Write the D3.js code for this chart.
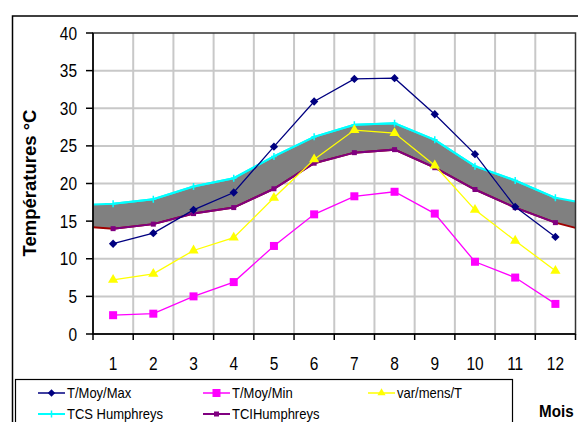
<!DOCTYPE html>
<html>
<head>
<meta charset="utf-8">
<script src="https://cdn.jsdelivr.net/npm/d3@7/dist/d3.min.js"></script>
<style>
  html, body { margin: 0; padding: 0; background: #fff; }
  svg { display: block; }
  text { font-family: "Liberation Sans", Arial, sans-serif; fill: #000; }
</style>
</head>
<body>
<svg id="chart" width="578" height="422"></svg>
<script>
// Monthly temperatures (°C)
const months = [1, 2, 3, 4, 5, 6, 7, 8, 9, 10, 11, 12];
const tMoyMax = [12.0, 13.4, 16.5, 18.8, 24.9, 30.9, 33.9, 34.0, 29.2, 23.9, 16.9, 12.9];
const tMoyMin = [2.5, 2.7, 5.0, 6.9, 11.7, 15.9, 18.3, 18.9, 16.0, 9.6, 7.5, 4.0];
const varMens = [7.2, 8.0, 11.1, 12.8, 18.1, 23.2, 27.1, 26.7, 22.4, 16.5, 12.4, 8.4];
const tcsHumphreys = [17.3, 17.9, 19.6, 20.7, 23.6, 26.2, 27.8, 28.0, 25.8, 22.3, 20.4, 18.1];
const tciHumphreys = [14.0, 14.6, 16.0, 16.8, 19.3, 22.7, 24.1, 24.5, 22.1, 19.2, 16.8, 14.8];
// comfort band values at the left and right plot edges
const tcsEdges = [17.2, 17.6];
const tciEdges = [14.2, 14.1];
const yTicks = [0, 5, 10, 15, 20, 25, 30, 35, 40];

const svg = d3.select("#chart");
const plot = { left: 93, right: 575.5, top: 33, bottom: 334 };

const x = d3.scaleBand().domain(months).range([plot.left, plot.right]).padding(0);
const cx = m => x(m) + x.bandwidth() / 2;
const y = d3.scaleLinear().domain([0, 40]).range([plot.bottom, plot.top]);

// condensed text helper
function label(g, tx, ty, str, opts) {
  const t = g.append("text")
    .attr("transform", `translate(${tx},${ty}) scale(${opts.sx || 1},1)`)
    .attr("font-size", opts.size)
    .attr("text-anchor", opts.anchor || "start")
    .text(str);
  if (opts.bold) t.attr("font-weight", "bold");
  return t;
}

// outer frame
svg.append("path")
  .attr("d", `M12.5,422 V16 H578`)
  .attr("fill", "none").attr("stroke", "#000").attr("stroke-width", 1.5);

// gridlines
const grid = svg.append("g").attr("stroke", "#c8c8c8").attr("stroke-width", 2);
yTicks.filter(v => v > 0 && v < 40).forEach(v => {
  grid.append("line").attr("x1", plot.left).attr("x2", plot.right)
    .attr("y1", y(v)).attr("y2", y(v));
});
months.slice(1).forEach(m => {
  grid.append("line").attr("x1", x(m)).attr("x2", x(m))
    .attr("y1", plot.top).attr("y2", plot.bottom);
});

// comfort band (Humphreys), spanning the full plot width
const band = [{ px: plot.left, lo: tciEdges[0], hi: tcsEdges[0] }]
  .concat(months.map((m, i) => ({ px: cx(m), lo: tciHumphreys[i], hi: tcsHumphreys[i] })))
  .concat([{ px: plot.right, lo: tciEdges[1], hi: tcsEdges[1] }]);

svg.append("path").datum(band)
  .attr("d", d3.area().x(d => d.px).y0(d => y(d.lo)).y1(d => y(d.hi)))
  .attr("fill", "#808080");
svg.append("path").datum(band)
  .attr("d", d3.line().x(d => d.px).y(d => y(d.lo)))
  .attr("fill", "none").attr("stroke", "#a00000").attr("stroke-width", 2);
svg.append("path").datum(band)
  .attr("d", d3.line().x(d => d.px).y(d => y(d.hi)))
  .attr("fill", "none").attr("stroke", "#00ffff").attr("stroke-width", 2);

// plot border
svg.append("rect")
  .attr("x", plot.left).attr("y", plot.top)
  .attr("width", plot.right - plot.left).attr("height", plot.bottom - plot.top)
  .attr("fill", "none").attr("stroke", "#333").attr("stroke-width", 1.5);

// axes
const axes = svg.append("g").attr("stroke", "#000").attr("stroke-width", 1.5);
axes.append("line").attr("x1", plot.left).attr("x2", plot.left)
  .attr("y1", plot.top).attr("y2", plot.bottom);
axes.append("line").attr("x1", plot.left).attr("x2", plot.right)
  .attr("y1", plot.bottom).attr("y2", plot.bottom);
yTicks.forEach(v => {
  axes.append("line").attr("x1", plot.left - 7).attr("x2", plot.left)
    .attr("y1", y(v)).attr("y2", y(v));
});
months.concat([null]).forEach((m, i) => {
  const px = m === null ? plot.right : x(m);
  axes.append("line").attr("x1", px).attr("x2", px)
    .attr("y1", plot.bottom).attr("y2", plot.bottom + 6);
});

const texts = svg.append("g");
yTicks.forEach(v => label(texts, 77, y(v) + 6.5, String(v), { size: 18, sx: 0.86, anchor: "end" }));
months.forEach(m => label(texts, cx(m), 370, String(m), { size: 18, sx: 0.86, anchor: "middle" }));

// axis titles
texts.append("text")
  .attr("transform", "translate(36,183) rotate(-90)")
  .attr("text-anchor", "middle").attr("font-size", 18.5).attr("font-weight", "bold")
  .text("Températures °C");
label(texts, 539, 417, "Mois", { size: 16, bold: true, sx: 0.95 });

// marker shapes
const markers = {
  diamond: (g, s) => g.append("path").attr("d", d3.symbol(d3.symbolDiamond2, s * s * 0.55)()),
  square: (g, s) => g.append("rect").attr("x", -s / 2).attr("y", -s / 2).attr("width", s).attr("height", s),
  triangle: (g, s) => g.append("path").attr("d", d3.symbol(d3.symbolTriangle, s * s * 0.45)()),
  plus: (g, s) => g.append("path").attr("d", `M0,${-s / 2}V${s / 2}M${-s / 2.5},0H${s / 2.5}`)
};

const series = [
  { name: "TCS Humphreys", values: tcsHumphreys, color: "#00ffff", marker: "plus", size: 7, width: 2 },
  { name: "TCIHumphreys", values: tciHumphreys, color: "#800080", marker: "square", size: 5, width: 2 },
  { name: "T/Moy/Max", values: tMoyMax, color: "#000080", marker: "diamond", size: 9, width: 1.3 },
  { name: "T/Moy/Min", values: tMoyMin, color: "#ff00ff", marker: "square", size: 8, width: 1.3 },
  { name: "var/mens/T", values: varMens, color: "#ffff00", marker: "triangle", size: 10, width: 1.3 }
];

const line = d3.line().x(d => cx(d.m)).y(d => y(d.v));
series.forEach(s => {
  const pts = months.map((m, i) => ({ m, v: s.values[i] }));
  const g = svg.append("g");
  g.append("path").datum(pts).attr("d", line)
    .attr("fill", "none").attr("stroke", s.color).attr("stroke-width", s.width);
  pts.forEach(p => {
    const mg = g.append("g").attr("transform", `translate(${cx(p.m)},${y(p.v)})`);
    const mk = markers[s.marker](mg, s.size);
    if (s.marker === "plus") mk.attr("stroke", s.color).attr("stroke-width", 1.5).attr("fill", "none");
    else mk.attr("fill", s.color);
  });
});

// legend
const legend = svg.append("g");
legend.append("rect").attr("x", 15.5).attr("y", 379.5).attr("width", 497).attr("height", 60)
  .attr("fill", "#fff").attr("stroke", "#000").attr("stroke-width", 1.2);
const legendItems = [
  { s: series[2], col: 0, row: 0 },
  { s: series[3], col: 1, row: 0 },
  { s: series[4], col: 2, row: 0 },
  { s: series[0], col: 0, row: 1 },
  { s: series[1], col: 1, row: 1 }
];
const colX = [38, 203, 368];
const rowY = [393, 414];
legendItems.forEach(it => {
  const lx = colX[it.col], ly = rowY[it.row];
  legend.append("line").attr("x1", lx).attr("x2", lx + 27).attr("y1", ly).attr("y2", ly)
    .attr("stroke", it.s.color).attr("stroke-width", it.s.width > 1.5 ? 2 : 1.5);
  const mg = legend.append("g").attr("transform", `translate(${lx + 13.5},${ly})`);
  const mk = markers[it.s.marker](mg, Math.min(it.s.size, 8));
  if (it.s.marker === "plus") mk.attr("stroke", it.s.color).attr("stroke-width", 1.5).attr("fill", "none");
  else mk.attr("fill", it.s.color);
  label(legend, lx + 29, ly + 5, it.s.name, { size: 14, sx: 0.93 });
});
</script>
</body>
</html>
